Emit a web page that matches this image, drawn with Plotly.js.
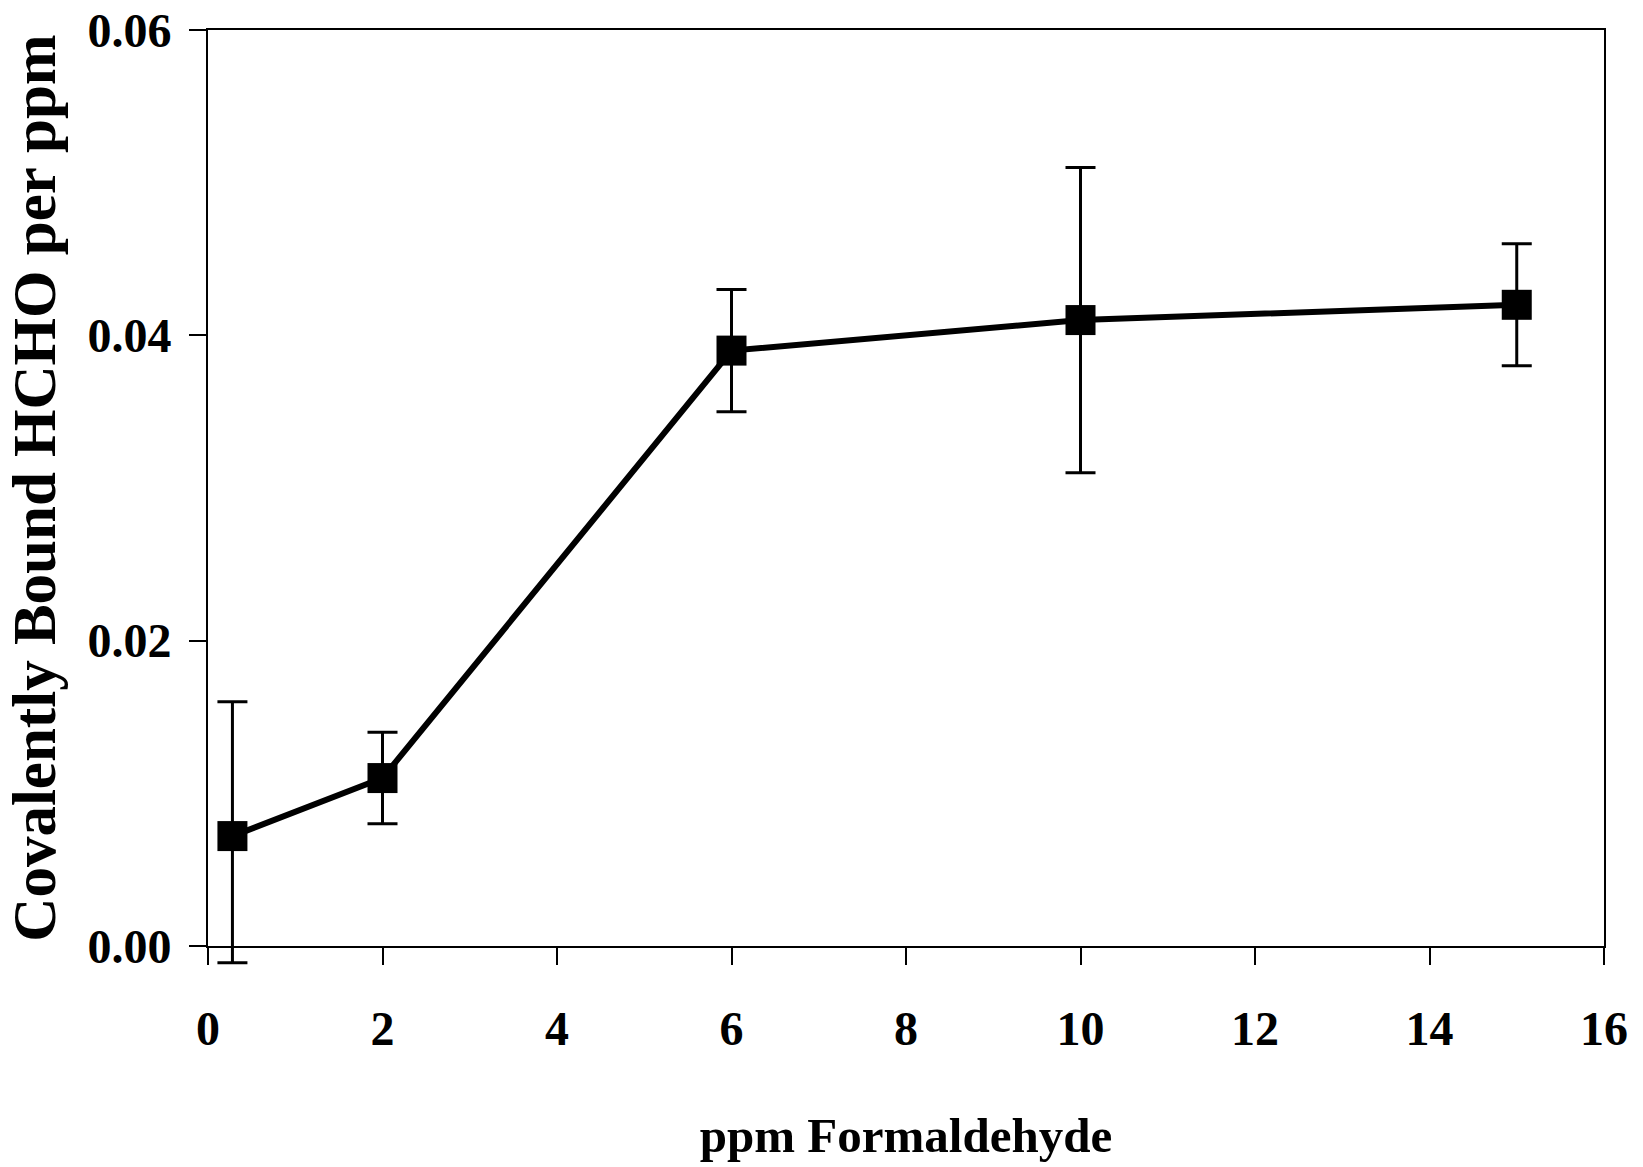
<!DOCTYPE html>
<html>
<head>
<meta charset="utf-8">
<script src="https://cdn.plot.ly/plotly-3.0.1.min.js"></script>
<style>html,body{margin:0;padding:0;background:#fff;}#chart{width:1643px;height:1167px;}</style>
</head>
<body>
<div id="chart"></div>
<script>
// Data
const ppmFormaldehyde = [0.28, 2, 6, 10, 15];
const boundHCHO = [0.0072, 0.011, 0.039, 0.041, 0.042];
const errPlus = [0.0088, 0.003, 0.004, 0.010, 0.004];
const errMinus = [0.0083, 0.003, 0.004, 0.010, 0.004];
const xTicks = [0, 2, 4, 6, 8, 10, 12, 14, 16];
const yTicks = [0, 0.02, 0.04, 0.06];
const yTickLabels = ['0.00', '0.02', '0.04', '0.06'];

const fontFam = 'Liberation Serif, Times New Roman, serif';

// geometry: plot area from y=30 to y=946 for range [0,0.06];
// a second, invisible subplot extends 30px lower with identical scale so error bars can go below 0
const yMax = 0.06;
const mainH = 916, extra = 30;
const yLowExt = -yMax * extra / mainH;

const lineTrace = {
  x: ppmFormaldehyde,
  y: boundHCHO,
  type: 'scatter',
  mode: 'lines+markers',
  line: {color: '#000', width: 6},
  marker: {symbol: 'square', size: 30, color: '#000'},
  cliponaxis: false,
  showlegend: false,
  xaxis: 'x', yaxis: 'y'
};

const errTrace = {
  x: ppmFormaldehyde,
  y: boundHCHO,
  type: 'scatter',
  mode: 'markers',
  marker: {size: 1, color: 'rgba(0,0,0,0)'},
  error_y: {
    type: 'data', symmetric: false,
    array: errPlus, arrayminus: errMinus,
    color: '#000', thickness: 3, width: 15
  },
  cliponaxis: false,
  showlegend: false,
  xaxis: 'x2', yaxis: 'y2'
};

const layout = {
  width: 1643, height: 1167,
  margin: {l: 208, r: 39, t: 30, b: 221 - extra},
  paper_bgcolor: '#fff', plot_bgcolor: 'rgba(0,0,0,0)',
  font: {family: fontFam, color: '#000', size: 48, weight: 'bold'},
  xaxis: {
    range: [0, 16], tickvals: xTicks, ticktext: xTicks.map(String),
    anchor: 'y',
    ticks: 'outside', ticklen: 17, tickwidth: 2, tickcolor: '#000',
    showline: true, linecolor: '#000', linewidth: 2, mirror: true,
    showgrid: false, zeroline: false,
    tickfont: {family: fontFam, size: 48, weight: 'bold', color: '#000'},
    ticklabelstandoff: 22,
    title: {text: 'ppm Formaldehyde', font: {family: fontFam, size: 49, weight: 'bold', color: '#000'}, standoff: 64}
  },
  yaxis: {
    domain: [extra / (mainH + extra), 1],
    range: [0, yMax], tickvals: yTicks, ticktext: yTickLabels,
    anchor: 'x',
    ticks: 'outside', ticklen: 17, tickwidth: 2, tickcolor: '#000',
    showline: true, linecolor: '#000', linewidth: 2, mirror: true,
    showgrid: false, zeroline: false,
    tickfont: {family: fontFam, size: 48, weight: 'bold', color: '#000'},
    ticklabelstandoff: 8,
    title: {text: 'Covalently Bound HCHO per ppm', font: {family: fontFam, size: 61, weight: 'bold', color: '#000'}, standoff: 12}
  },
  xaxis2: {range: [0, 16], anchor: 'y2', visible: false, showgrid: false, zeroline: false},
  yaxis2: {domain: [0, 1], range: [yLowExt, yMax], anchor: 'x2', visible: false, showgrid: false, zeroline: false}
};

Plotly.newPlot('chart', [lineTrace, errTrace], layout, {displayModeBar: false, staticPlot: true});
</script>
</body>
</html>
